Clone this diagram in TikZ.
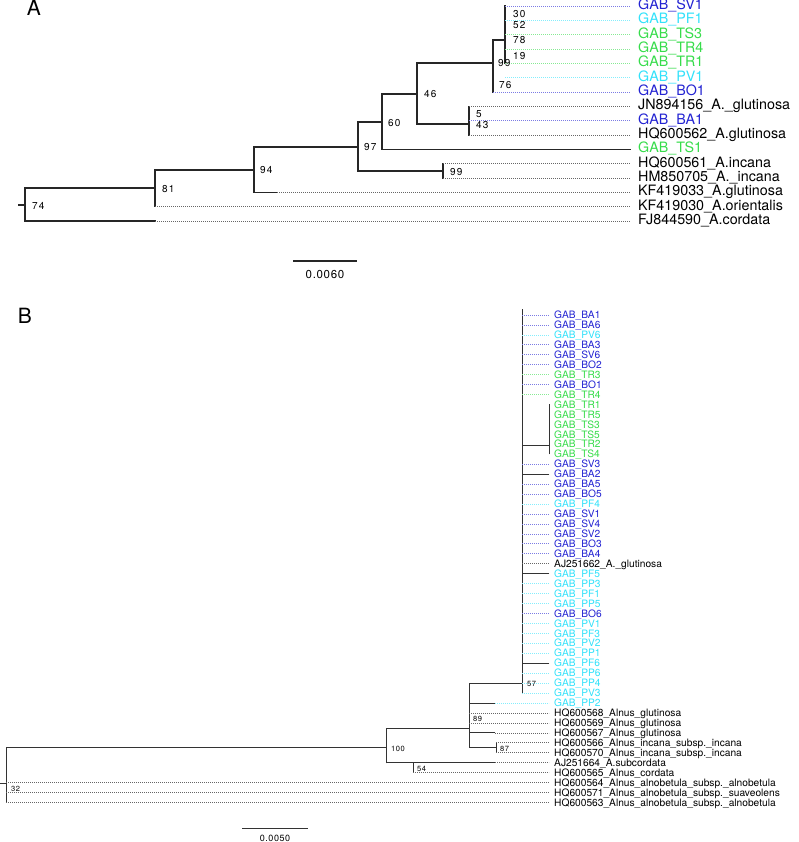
\documentclass[tikz,border=0pt]{standalone}
\usepackage{fontspec}
\setmainfont{TeX Gyre Heros}
\definecolor{tblue}{RGB}{35,35,210}
\definecolor{tcyan}{RGB}{50,225,250}
\definecolor{tgreen}{RGB}{55,220,75}
\definecolor{tblack}{RGB}{0,0,0}
\newcommand\tipA[5]{% name, y, colour, text, start coordinate
  \node[tipa,text=#3] (#1) at (638,#2) {#4};
  \if\relax\detokenize{#5}\relax\else
  \draw[dot,#3!60!white] (#5 |- #1.west) -- ([xshift=-8pt]#1.west);\fi}
\newcommand\tipB[4]{% index, colour, text, start coordinate
  \pgfmathsetmacro\yy{315+9.95*#1}
  \node[tipb,text=#2] (tB#1) at (554,\yy) {#3};
  \if\relax\detokenize{#4}\relax\else
  \draw[dot,#2!60!white] (#4 |- tB#1.west) -- ([xshift=-5pt]tB#1.west);\fi}
\begin{document}
\begin{tikzpicture}[x=1pt,y=-1pt,
  br/.style={line width=1.1pt,color=black!85,line cap=rect},
  brb/.style={line width=0.9pt,color=black!80,line cap=rect},
  dot/.style={line width=0.75pt,dash pattern=on 0.8pt off 1.2pt},
  tipa/.style={inner sep=0pt,anchor=west,font=\fontsize{14.3}{16}\selectfont,text height=0.72em,text depth=0pt},
  tipb/.style={inner sep=0pt,anchor=west,font=\fontsize{10.2}{12}\selectfont,text height=0.72em,text depth=0pt},
  bsa/.style={inner sep=0pt,anchor=west,font=\fontsize{10}{12}\selectfont\addfontfeatures{LetterSpace=12},text height=0.72em,text depth=0pt},
  bsb/.style={inner sep=0pt,anchor=west,font=\fontsize{7.5}{9}\selectfont\addfontfeatures{LetterSpace=8},text height=0.72em,text depth=0pt},
  panel/.style={inner sep=0pt,font=\fontsize{21}{24}\selectfont,text height=0.72em,text depth=0pt}]
\useasboundingbox (0,0) rectangle (798,842);

% ---------------- Panel A ----------------
\node[panel] (lA) at (34,12) {A};

\coordinate (a30) at (505,40);
\coordinate (a99) at (493,63);
\coordinate (a46) at (417,94);
\coordinate (a5) at (469,124);
\coordinate (a60) at (382,122);
\coordinate (a97) at (358,147);
\coordinate (a99b) at (443,171);
\coordinate (a94) at (254,170);
\coordinate (a81) at (155,188);
\coordinate (a74) at (25,205);
\coordinate (aroot) at (19,205);

\draw[br] (505,6) -- (505,63);
\draw[br] (493,40) -- (493,92);
\draw[br] (417,63) -- (417,124);
\draw[br] (469,106.3) -- (469,135);
\draw[br] (382,94) -- (382,149.3);
\draw[br] (358,122) -- (358,171);
\draw[br] (443,163.6) -- (443,178);
\draw[br] (254,147) -- (254,192.3);
\draw[br] (155,170) -- (155,206.6);
\draw[br] (25,188) -- (25,221);

\draw[br] (a99 |- a30) -- (a30);
\draw[br] (a46 |- a99) -- (a99);
\draw[br] (a46 |- a5) -- (a5);
\draw[br] (a60 |- a46) -- (a46);
\draw[br] (a97 |- a60) -- (a60);
\draw[br] (a97 |- a99b) -- (a99b);
\draw[br] (a94 |- a97) -- (a97);
\draw[br] (a81 |- a94) -- (a94);
\draw[br] (a74 |- a81) -- (a81);
\draw[br] (aroot) -- (a74);

\tipA{tA0}{6}{tblue}{GAB\_SV1}{a30}
\tipA{tA1}{20.33}{tcyan}{GAB\_PF1}{a30}
\tipA{tA2}{34.66}{tgreen}{GAB\_TS3}{a30}
\tipA{tA3}{49}{tgreen}{GAB\_TR4}{a30}
\tipA{tA4}{63.3}{tgreen}{GAB\_TR1}{a30}
\tipA{tA5}{77.65}{tcyan}{GAB\_PV1}{a30}
\tipA{tA6}{92}{tblue}{GAB\_BO1}{a99}
\tipA{tA7}{106.3}{tblack}{JN894156\_A.\_glutinosa}{a5}
\tipA{tA8}{120.6}{tblue}{GAB\_BA1}{a5}
\tipA{tA9}{135}{tblack}{HQ600562\_A.glutinosa}{a5}
\tipA{tA10}{149.3}{tgreen}{GAB\_TS1}{}
\tipA{tA11}{163.6}{tblack}{HQ600561\_A.incana}{a99b}
\tipA{tA12}{178}{tblack}{HM850705\_A.\_incana}{a99b}
\tipA{tA13}{192.3}{tblack}{KF419033\_A.glutinosa}{}
\tipA{tA14}{206.6}{tblack}{KF419030\_A.orientalis}{a81}
\tipA{tA15}{221}{tblack}{FJ844590\_A.cordata}{}

\draw[br] (a60 |- tA10.west) -- ([xshift=-8pt]tA10.west);
\draw[br] (a94 |- tA13.west) -- ++(23,0) coordinate (ka13);
\draw[dot,black!60!white] (ka13) -- ([xshift=-8pt]tA13.west);
\draw[br] (a74 |- tA15.west) -- (a81 |- tA15.west) coordinate (ka15);
\draw[dot,black!60!white] (ka15) -- ([xshift=-8pt]tA15.west);

\node[bsa] (sA30) at (513,14) {30};
\node[bsa] (sA52) at (513,25) {52};
\node[bsa] (sA78) at (513,40) {78};
\node[bsa] (sA19) at (513,56) {19};
\node[bsa] (sA99) at (498,63) {99};
\node[bsa] (sA76) at (499,85) {76};
\node[bsa] (sA46) at (424,94) {46};
\node[bsa] (sA5) at (476,114) {5};
\node[bsa] (sA43) at (476,125) {43};
\node[bsa] (sA60) at (388,123) {60};
\node[bsa] (sA97) at (364,147) {97};
\node[bsa] (sA99b) at (450,172) {99};
\node[bsa] (sA94) at (260,170) {94};
\node[bsa] (sA81) at (162,189) {81};
\node[bsa] (sA74) at (32,206) {74};

\coordinate (sa1) at (293,261);
\coordinate (sa2) at (357,261);
\draw[br,line cap=butt] (sa1) -- (sa2);
\node[font=\fontsize{11.5}{13}\selectfont\addfontfeatures{LetterSpace=6},inner sep=0pt] (saT) at (325,275) {0.0060};

% ---------------- Panel B ----------------
\node[panel] (lB) at (25,320) {B};

\coordinate (n57) at (522,683);
\coordinate (nTR) at (549,445);
\coordinate (n89) at (469,728);
\coordinate (n87) at (496,747.9);
\coordinate (n100) at (386,747);
\coordinate (n54) at (413,762.75);
\coordinate (n32) at (6,783);
\coordinate (nroot) at (0,783);
\coordinate (k39) at (495,703.05);
\coordinate (k42) at (495,732.9);
\coordinate (k45) at (495,762.75);

\draw[brb] (522,309) -- (522,693);
\draw[brb] (549,404) -- (549,454);
\draw[brb] (469,683) -- (469,747);
\draw[brb] (496,742.9) -- (496,752.8);
\draw[brb] (386,728) -- (386,763);
\draw[brb] (413,762.75) -- (413,772.7);
\draw[brb] (6,747) -- (6,802.6);

\draw[brb] (n57 |- nTR) -- (nTR);
\draw[brb] (n89 |- n57) -- (n57);
\draw[brb] (n89 |- n87) -- (n87);
\draw[brb] (n100 |- n89) -- (n89);
\draw[brb] (n100 |- n54) -- (n54);
\draw[brb] (n32 |- n100) -- (n100);
\draw[brb] (nroot) -- (n32);
\draw[brb] (n89 |- k39) -- (k39);
\draw[brb] (n89 |- k42) -- (k42);
\draw[brb] (n54 |- k45) -- (k45);

\tipB{0}{tblue}{GAB\_BA1}{n57}
\tipB{1}{tblue}{GAB\_BA6}{n57}
\tipB{2}{tcyan}{GAB\_PV6}{n57}
\tipB{3}{tblue}{GAB\_BA3}{n57}
\tipB{4}{tblue}{GAB\_SV6}{n57}
\tipB{5}{tblue}{GAB\_BO2}{n57}
\tipB{6}{tgreen}{GAB\_TR3}{n57}
\tipB{7}{tblue}{GAB\_BO1}{n57}
\tipB{8}{tgreen}{GAB\_TR4}{n57}
\tipB{9}{tgreen}{GAB\_TR1}{}
\tipB{10}{tgreen}{GAB\_TR5}{}
\tipB{11}{tgreen}{GAB\_TS3}{}
\tipB{12}{tgreen}{GAB\_TS5}{}
\tipB{13}{tgreen}{GAB\_TR2}{}
\tipB{14}{tgreen}{GAB\_TS4}{}
\tipB{15}{tblue}{GAB\_SV3}{n57}
\tipB{16}{tblue}{GAB\_BA2}{}
\tipB{17}{tblue}{GAB\_BA5}{n57}
\tipB{18}{tblue}{GAB\_BO5}{n57}
\tipB{19}{tcyan}{GAB\_PF4}{n57}
\tipB{20}{tblue}{GAB\_SV1}{n57}
\tipB{21}{tblue}{GAB\_SV4}{n57}
\tipB{22}{tblue}{GAB\_SV2}{n57}
\tipB{23}{tblue}{GAB\_BO3}{n57}
\tipB{24}{tblue}{GAB\_BA4}{n57}
\tipB{25}{tblack}{AJ251662\_A.\_glutinosa}{n57}
\tipB{26}{tcyan}{GAB\_PF5}{}
\tipB{27}{tcyan}{GAB\_PP3}{n57}
\tipB{28}{tcyan}{GAB\_PF1}{n57}
\tipB{29}{tcyan}{GAB\_PP5}{n57}
\tipB{30}{tblue}{GAB\_BO6}{n57}
\tipB{31}{tcyan}{GAB\_PV1}{n57}
\tipB{32}{tcyan}{GAB\_PF3}{n57}
\tipB{33}{tcyan}{GAB\_PV2}{n57}
\tipB{34}{tcyan}{GAB\_PP1}{n57}
\tipB{35}{tcyan}{GAB\_PF6}{}
\tipB{36}{tcyan}{GAB\_PP6}{n57}
\tipB{37}{tcyan}{GAB\_PP4}{n57}
\tipB{38}{tcyan}{GAB\_PV3}{n57}
\tipB{39}{tcyan}{GAB\_PP2}{k39}
\tipB{40}{tblack}{HQ600568\_Alnus\_glutinosa}{n89}
\tipB{41}{tblack}{HQ600569\_Alnus\_glutinosa}{n89}
\tipB{42}{tblack}{HQ600567\_Alnus\_glutinosa}{k42}
\tipB{43}{tblack}{HQ600566\_Alnus\_incana\_subsp.\_incana}{n87}
\tipB{44}{tblack}{HQ600570\_Alnus\_incana\_subsp.\_incana}{n87}
\tipB{45}{tblack}{AJ251664\_A.subcordata}{k45}
\tipB{46}{tblack}{HQ600565\_Alnus\_cordata}{n54}
\tipB{47}{tblack}{HQ600564\_Alnus\_alnobetula\_subsp.\_alnobetula}{n32}
\tipB{48}{tblack}{HQ600571\_Alnus\_alnobetula\_subsp.\_suaveolens}{n32}
\tipB{49}{tblack}{HQ600563\_Alnus\_alnobetula\_subsp.\_alnobetula}{n32}

\draw[brb] (n57 |- tB16.west) -- ([xshift=-5pt]tB16.west);
\draw[brb] (n57 |- tB26.west) -- ([xshift=-5pt]tB26.west);
\draw[brb] (n57 |- tB35.west) -- ([xshift=-5pt]tB35.west);

\node[bsb] (sB57) at (527,683) {57};
\node[bsb] (sB89) at (473,718) {89};
\node[bsb] (sB87) at (500,748) {87};
\node[bsb] (sB100) at (391,748) {100};
\node[bsb] (sB54) at (417,768) {54};
\node[bsb] (sB32) at (11,788) {32};

\coordinate (sb1) at (242,828);
\coordinate (sb2) at (308,828);
\draw[brb,line cap=butt] (sb1) -- (sb2);
\node[font=\fontsize{9}{10}\selectfont\addfontfeatures{LetterSpace=6},inner sep=0pt] (sbT) at (275,838.5) {0.0050};
\end{tikzpicture}
\end{document}
